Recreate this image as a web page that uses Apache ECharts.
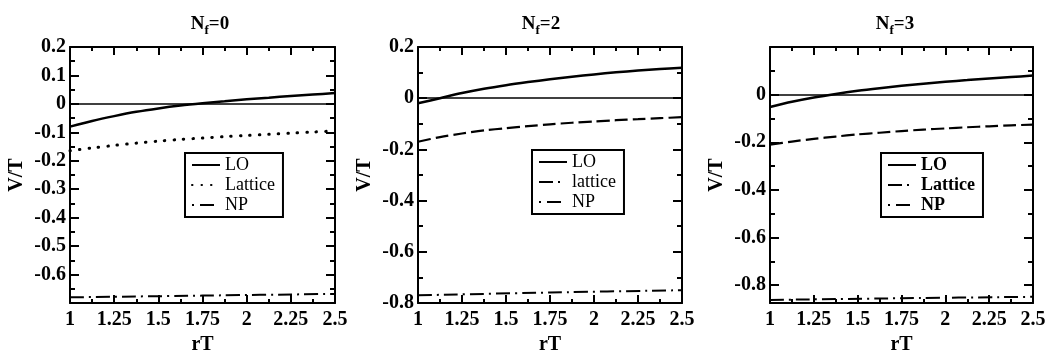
<!DOCTYPE html>
<html>
<head>
<meta charset="utf-8">
<script src="https://cdn.jsdelivr.net/npm/echarts@6/dist/echarts.min.js"></script>
<style>
  html, body { margin: 0; padding: 0; background: #fff; }
  #chart { width: 1050px; height: 352px; }
</style>
</head>
<body>
<div id="chart"></div>
<script>
// rT values the curves are read at
const rT = [1, 1.125, 1.25, 1.375, 1.5, 1.625, 1.75, 1.875, 2, 2.125, 2.25, 2.375, 2.5];
const rTnp = [1, 1.75, 2.5];

// Nf = 0
const lo0 = [-0.08, -0.06, -0.043, -0.028, -0.016, -0.006, 0.002, 0.009, 0.016, 0.022, 0.028, 0.033, 0.038];
const lat0 = [-0.165, -0.155, -0.146, -0.138, -0.131, -0.125, -0.12, -0.115, -0.111, -0.107, -0.103, -0.099, -0.095];
const np0 = [-0.68, -0.674, -0.668];
// Nf = 2
const lo2 = [-0.02, 0, 0.02, 0.037, 0.051, 0.063, 0.074, 0.084, 0.093, 0.101, 0.108, 0.114, 0.119];
const lat2 = [-0.17, -0.152, -0.138, -0.126, -0.117, -0.109, -0.102, -0.096, -0.091, -0.086, -0.082, -0.078, -0.074];
const np2 = [-0.77, -0.759, -0.75];
// Nf = 3
const lo3 = [-0.052, -0.03, -0.012, 0.003, 0.016, 0.027, 0.037, 0.046, 0.054, 0.061, 0.068, 0.074, 0.08];
const lat3 = [-0.21, -0.197, -0.186, -0.176, -0.167, -0.16, -0.153, -0.147, -0.142, -0.137, -0.133, -0.129, -0.126];
const np3 = [-0.862, -0.855, -0.849];

// tick labels
const xLabels = [1, 1.25, 1.5, 1.75, 2, 2.25, 2.5];
const xMinor = [1.125, 1.375, 1.625, 1.875, 2.125, 2.375];
const yLabels0 = [0.2, 0.1, 0, -0.1, -0.2, -0.3, -0.4, -0.5, -0.6];
const yMinor0 = [0.15, 0.05, -0.05, -0.15, -0.25, -0.35, -0.45, -0.55, -0.65];
const yLabels2 = [0.2, 0, -0.2, -0.4, -0.6, -0.8];
const yMinor2 = [0.1, -0.1, -0.3, -0.5, -0.7];
const yLabels3 = [0, -0.2, -0.4, -0.6, -0.8];
const yMinor3 = [0.1, -0.1, -0.3, -0.5, -0.7];

const serif = 'Liberation Serif';
const chart = echarts.init(document.getElementById('chart'));

const npDash = [14, 5, 2, 5];
const npIcon = [2, 6, 14, 8];      // legend shows ". —"
const latIcon = [14, 5, 2, 9];     // legend shows "— ."

const panels = [
  { nf: '0', grid: { left: 70, top: 47, width: 265, height: 256 }, yMin: -0.7, yMax: 0.2,
    yLab: yLabels0, yMin2: yMinor0, lo: lo0, lat: lat0, np: np0,
    names: ['LO', 'Lattice', 'NP'], latType: [0.5, 9], latCap: 'round', latWidth: 3, latIcon: null,
    titleX: 205, legend: { left: 185, top: 153 }, bold: false },
  { nf: '2', grid: { left: 418, top: 47, width: 264, height: 256 }, yMin: -0.8, yMax: 0.2,
    yLab: yLabels2, yMin2: yMinor2, lo: lo2, lat: lat2, np: np2,
    names: ['LO', 'lattice', 'NP'], latType: [13, 5], latCap: 'butt', latWidth: 2.2, latIcon: latIcon,
    titleX: 536, legend: { left: 532, top: 150 }, bold: false },
  { nf: '3', grid: { left: 770, top: 47, width: 263, height: 256 }, yMin: -0.875, yMax: 0.2,
    yLab: yLabels3, yMin2: yMinor3, lo: lo3, lat: lat3, np: np3,
    names: ['LO', 'Lattice', 'NP'], latType: [13, 5], latCap: 'butt', latWidth: 2.2, latIcon: latIcon,
    titleX: 890, legend: { left: 881, top: 153 }, bold: true }
];

const labelStyle = { fontFamily: serif, fontWeight: 'bold', fontSize: 20, color: '#000' };
const tickLine = { color: '#000', width: 2 };

function xAxisSet(g) {
  const base = { type: 'value', gridIndex: g, min: 1, max: 2.5, splitLine: { show: false } };
  return [
    Object.assign({}, base, {
      position: 'bottom',
      axisLine: { show: true, onZero: false, lineStyle: { color: '#000', width: 2 } },
      axisTick: { show: true, inside: true, length: 8, customValues: xLabels, lineStyle: tickLine },
      axisLabel: Object.assign({ customValues: xLabels, margin: 7 }, labelStyle),
      name: 'rT', nameLocation: 'middle', nameGap: 26,
      nameTextStyle: labelStyle
    }),
    Object.assign({}, base, {
      position: 'bottom', axisLine: { show: false, onZero: false },
      axisTick: { show: true, inside: true, length: 4, customValues: xMinor, lineStyle: tickLine },
      axisLabel: { show: false }
    }),
    Object.assign({}, base, {
      position: 'top',
      axisLine: { show: true, onZero: false, lineStyle: { color: '#000', width: 2 } },
      axisTick: { show: true, inside: true, length: 8, customValues: xLabels, lineStyle: tickLine },
      axisLabel: { show: false }
    }),
    Object.assign({}, base, {
      position: 'top', axisLine: { show: false, onZero: false },
      axisTick: { show: true, inside: true, length: 4, customValues: xMinor, lineStyle: tickLine },
      axisLabel: { show: false }
    })
  ];
}

function yAxisSet(g, p) {
  const base = { type: 'value', gridIndex: g, min: p.yMin, max: p.yMax, splitLine: { show: false } };
  return [
    Object.assign({}, base, {
      position: 'left',
      axisLine: { show: true, onZero: false, lineStyle: { color: '#000', width: 2 } },
      axisTick: { show: true, inside: true, length: 9, customValues: p.yLab, lineStyle: tickLine },
      axisLabel: Object.assign({ customValues: p.yLab, margin: 4 }, labelStyle),
      name: 'V/T', nameLocation: 'middle', nameGap: 43, nameRotate: 90,
      nameTextStyle: labelStyle
    }),
    Object.assign({}, base, {
      position: 'left', axisLine: { show: false, onZero: false },
      axisTick: { show: true, inside: true, length: 5, customValues: p.yMin2, lineStyle: tickLine },
      axisLabel: { show: false }
    }),
    Object.assign({}, base, {
      position: 'right',
      axisLine: { show: true, onZero: false, lineStyle: { color: '#000', width: 2 } },
      axisTick: { show: true, inside: true, length: 9, customValues: p.yLab, lineStyle: tickLine },
      axisLabel: { show: false }
    }),
    Object.assign({}, base, {
      position: 'right', axisLine: { show: false, onZero: false },
      axisTick: { show: true, inside: true, length: 5, customValues: p.yMin2, lineStyle: tickLine },
      axisLabel: { show: false }
    })
  ];
}

function pairs(xs, ys) {
  return xs.map(function (x, i) { return [x, ys[i]]; });
}

const grids = [], xAxes = [], yAxes = [], series = [], legends = [], titles = [];
panels.forEach(function (p, g) {
  grids.push(Object.assign({ outerBoundsMode: 'none', containLabel: false }, p.grid));
  xAxes.push.apply(xAxes, xAxisSet(g));
  yAxes.push.apply(yAxes, yAxisSet(g, p));
  const ids = p.names.map(function (n) { return n + '_' + g; });
  const common = { type: 'line', xAxisIndex: g * 4, yAxisIndex: g * 4, symbol: 'none',
    smooth: 0.3, silent: true, animation: false, color: '#000', itemStyle: { color: '#000' } };
  series.push(Object.assign({}, common, {
    name: ids[0], data: pairs(rT, p.lo),
    lineStyle: { color: '#000', width: 2.5 },
    markLine: { silent: true, symbol: 'none', label: { show: false }, animation: false,
      lineStyle: { color: '#000', width: 1.5, type: 'solid' }, data: [{ yAxis: 0 }] }
  }));
  series.push(Object.assign({}, common, {
    name: ids[1], data: pairs(rT, p.lat),
    lineStyle: { color: '#000', width: p.latWidth, type: p.latType, cap: p.latCap }
  }));
  series.push(Object.assign({}, common, {
    name: ids[2], data: pairs(rTnp, p.np),
    lineStyle: { color: '#000', width: 2, type: npDash }
  }));
  const latItem = p.latIcon ? { name: ids[1], lineStyle: { type: p.latIcon } } : { name: ids[1] };
  legends.push({
    left: p.legend.left, top: p.legend.top, orient: 'vertical',
    data: [{ name: ids[0] }, latItem, { name: ids[2], lineStyle: { type: npIcon } }],
    selectedMode: false,
    borderColor: '#000', borderWidth: 2, borderRadius: 0,
    padding: [3, 8, 3, 6], itemGap: 2, itemWidth: 28, itemHeight: 14,
    itemStyle: { opacity: 0 },
    formatter: function (name) { return name.split('_')[0]; },
    textStyle: { fontFamily: serif, fontSize: 18, color: '#000',
      fontWeight: p.bold ? 'bold' : 'normal' }
  });
  titles.push({
    text: '{n|N}{s|f}{n|=' + p.nf + '}',
    left: p.titleX, top: 6, textAlign: 'center',
    textStyle: {
      rich: {
        n: { fontFamily: serif, fontWeight: 'bold', fontSize: 19, color: '#000' },
        s: { fontFamily: serif, fontWeight: 'bold', fontSize: 13, color: '#000', padding: [13, 0, 0, 0] }
      }
    }
  });
});

chart.setOption({
  animation: false,
  backgroundColor: '#fff',
  title: titles,
  grid: grids,
  xAxis: xAxes,
  yAxis: yAxes,
  legend: legends,
  series: series
});
</script>
</body>
</html>
